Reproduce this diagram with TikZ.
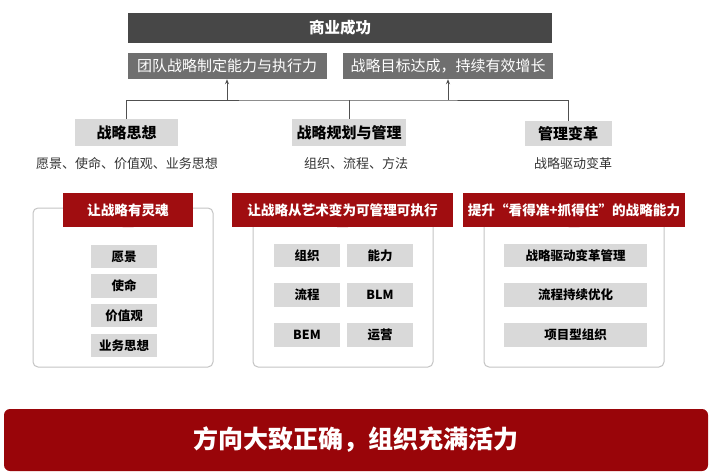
\documentclass[tikz,border=0pt]{standalone}
\usepackage{fontspec}
\setmainfont{Noto Sans CJK SC}
\usetikzlibrary{arrows.meta}
\definecolor{darkbar}{HTML}{474747}
\definecolor{midbar}{HTML}{6F6F6F}
\definecolor{lightbox}{HTML}{D9D9D9}
\definecolor{hdrred}{HTML}{A00D10}
\definecolor{botred}{HTML}{990509}
\definecolor{linegray}{HTML}{505050}
\definecolor{panelgray}{HTML}{C4C4C4}
\tikzset{
  fs/.style={font={\fontsize{#1}{#1}\selectfont}},
  fsb/.style={font={\fontsize{#1}{#1}\selectfont\bfseries}},
  topbar/.style={fill=darkbar, text=white, inner sep=0pt, minimum height=30pt, fsb=15.5},
  midbarbox/.style={fill=midbar, text=white, inner sep=0pt, minimum height=26pt, fs=15},
  pillar/.style={fill=lightbox, text=black, inner sep=0pt, minimum height=27pt, fsb=15},
  subtxt/.style={text=black!80, inner sep=0pt, fs=13},
  panel/.style={draw=panelgray, line width=1pt, rounded corners=5pt, fill=white},
  hdr/.style={fill=hdrred, text=white, inner sep=0pt, minimum height=34pt, fsb=13.6},
  item/.style={fill=lightbox, text=black, inner sep=0pt, minimum height=23.5pt, fsb=12.5},
  conn/.style={draw=linegray, line width=0.9pt},
  arr/.style={conn, -{Stealth[length=5pt,width=4pt]}},
  bottom/.style={fill=botred, text=white, inner sep=0pt, rounded corners=6pt, fsb=25},
}
\begin{document}
\begin{tikzpicture}[x=1pt, y=-1pt]
\useasboundingbox (0,0) rectangle (715,476);
% top rows
\node[topbar, minimum width=424pt] (top) at (340,28) {商业成功};
\node[midbarbox, minimum width=199pt] (ra) at (227,66) {团队战略制定能力与执行力};
\node[midbarbox, minimum width=210pt] (rb) at (448,66) {战略目标达成，持续有效增长};
% pillars
\node[pillar, minimum width=103pt] (pa) at (126.5,132.5) {战略思想};
\node[pillar, minimum width=114pt] (pb) at (349,132.5) {战略规划与管理};
\node[pillar, minimum width=87pt, minimum height=25pt] (pc) at (568,133.5) {管理变革};
\coordinate (j) at (349,100);
\draw[conn] (pa.north) |- (j) -| (pc.north);
\draw[conn] (pb.north) -- (j);
\draw[arr] (ra.south |- j) -- (ra.south);
\draw[arr] (rb.south |- j) -- (rb.south);
% subtexts
\node[subtxt] (sa) at (127,164) {愿景、使命、价值观、业务思想};
\node[subtxt] (sb) at (356,164) {组织、流程、方法};
\node[subtxt] (sc) at (573,164) {战略驱动变革};
% panels
\draw[panel] (33,208) rectangle (213,367);
\draw[panel] (253,208) rectangle (433,367);
\draw[panel] (484,208) rectangle (664,367);
% headers with pointers
\node[hdr, minimum width=130pt] (ha) at (128,210) {让战略有灵魂};
\node[hdr, minimum width=221pt] (hb) at (342.5,210) {让战略从艺术变为可管理可执行};
\node[hdr, minimum width=222pt] (hc) at (574,210) {提升“看得准+抓得住”的战略能力};
\foreach \h in {ha,hb,hc}{
  \fill[hdrred] ([xshift=-5.5pt]\h.south) -- ([xshift=5.5pt]\h.south) -- ([yshift=8pt]\h.south) -- cycle;
}
% left items
\node[item, minimum width=66pt] (a1) at (124,256.5) {愿景};
\node[item, minimum width=66pt] (a2) at (124,286) {使命};
\node[item, minimum width=66pt] (a3) at (124,315.5) {价值观};
\node[item, minimum width=66pt] (a4) at (124,345.5) {业务思想};
% middle items
\node[item, minimum width=66pt] (b1) at (307,255.5) {组织};
\node[item, minimum width=66pt] (b2) at (380,255.5) {能力};
\node[item, minimum width=66pt] (b3) at (307,295) {流程};
\node[item, minimum width=66pt] (b4) at (380,295) {BLM};
\node[item, minimum width=66pt] (b5) at (307,335) {BEM};
\node[item, minimum width=66pt] (b6) at (380,335) {运营};
% right items
\node[item, minimum width=143pt] (c1) at (575.5,255.5) {战略驱动变革管理};
\node[item, minimum width=143pt] (c2) at (575.5,295) {流程持续优化};
\node[item, minimum width=143pt] (c3) at (575.5,335) {项目型组织};
% bottom bar
\node[bottom, minimum width=704pt, minimum height=62pt] (bot) at (356,440) {方向大致正确，组织充满活力};
\end{tikzpicture}
\end{document}
